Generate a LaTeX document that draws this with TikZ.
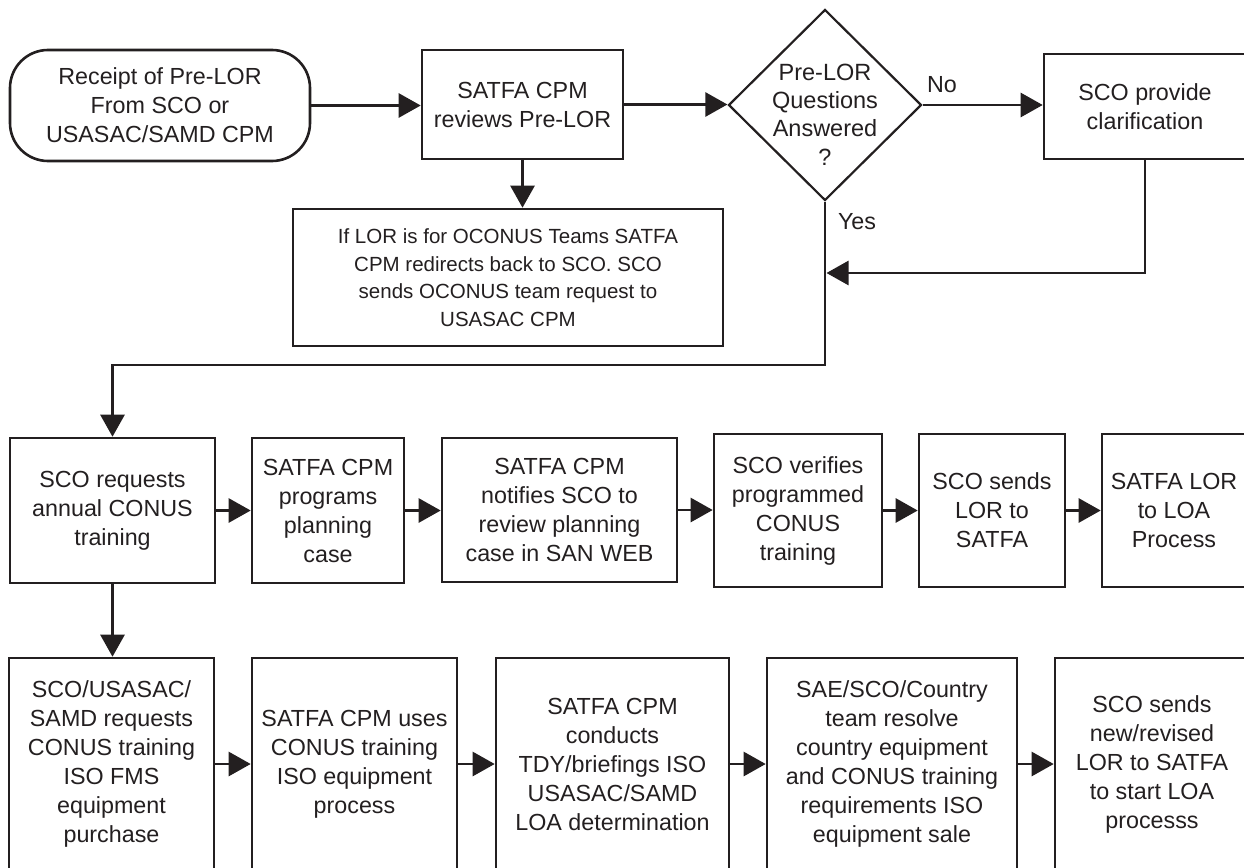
\documentclass[tikz,border=0pt]{standalone}
\usepackage{fontspec}
\setmainfont{Liberation Sans}
\usetikzlibrary{arrows.meta,shapes.geometric}
\definecolor{ink}{HTML}{231F20}
\begin{document}
\begin{tikzpicture}[x=1pt,y=-1pt,
  every node/.style={font=\fontsize{23.3}{29}\selectfont, text=ink},
  box/.style={draw=ink, line width=2.6pt, align=center, inner sep=0pt},
  conn/.style={draw=ink, line width=2.6pt, -{Triangle[length=22pt,width=24pt]}},
  lbl/.style={inner sep=0pt}
]
\useasboundingbox (0,0) rectangle (1244,867);
\clip (0,0) rectangle (1244,867);
% row 1
\node[box, rounded corners=38pt, minimum width=300pt, minimum height=111pt] (start) at (160,105.5)
  {Receipt of Pre-LOR\\From SCO or\\USASAC/SAMD CPM};
\node[box, minimum width=201pt, minimum height=109pt] (review) at (522.5,104.5)
  {SATFA CPM\\reviews Pre-LOR};
\node[draw=ink, line width=2.2pt, diamond, minimum width=193pt, minimum height=191pt, inner sep=0pt] (dec) at (825,105) {};
\node[align=center, font=\fontsize{23.5}{28.3}\selectfont] (dectext) at (825,114.5) {Pre-LOR\\Questions\\Answered\\?};
\node[box, minimum width=202pt, minimum height=105pt] (clar) at (1145,106.5)
  {SCO provide\\clarification};
\node[box, minimum width=430pt, minimum height=137pt, font=\fontsize{20.5}{27.5}\selectfont] (redir) at (508,277.5)
  {If LOR is for OCONUS Teams SATFA\\CPM redirects back to SCO. SCO\\sends OCONUS team request to\\USASAC CPM};
\node[lbl] (no) at (942,85) {No};
\node[lbl] (yes) at (857,222) {Yes};
% row 2
\node[box, minimum width=205pt, minimum height=145pt] (r2a) at (112.5,510.5)
  {SCO requests\\annual CONUS\\training};
\node[box, minimum width=152pt, minimum height=145pt] (r2b) at (328,510.5)
  {SATFA CPM\\programs\\planning\\case};
\node[box, minimum width=235pt, minimum height=144pt] (r2c) at (559.5,510)
  {SATFA CPM\\notifies SCO to\\review planning\\case in SAN WEB};
\node[box, minimum width=168pt, minimum height=153pt] (r2d) at (798,510.5)
  {SCO verifies\\programmed\\CONUS\\training};
\node[box, minimum width=146pt, minimum height=153pt] (r2e) at (992,510.5)
  {SCO sends\\LOR to\\SATFA};
\node[box, minimum width=144pt, minimum height=153pt] (r2f) at (1174,510.5)
  {SATFA LOR\\to LOA\\Process};
% row 3
\node[box, minimum width=205pt, minimum height=212pt] (r3a) at (111.5,764)
  {SCO/USASAC/\\SAMD requests\\CONUS training\\ISO FMS\\equipment\\purchase};
\node[box, minimum width=205pt, minimum height=212pt] (r3b) at (354.5,764)
  {SATFA CPM uses\\CONUS training\\ISO equipment\\process};
\node[box, minimum width=233pt, minimum height=212pt] (r3c) at (612.5,764)
  {SATFA CPM\\conducts\\TDY/briefings ISO\\USASAC/SAMD\\LOA determination};
\node[box, minimum width=250pt, minimum height=212pt] (r3d) at (892,764)
  {SAE/SCO/Country\\team resolve\\country equipment\\and CONUS training\\requirements ISO\\equipment sale};
\node[box, minimum width=194pt, minimum height=212pt] (r3e) at (1152,764)
  {SCO sends\\new/revised\\LOR to SATFA\\to start LOA\\processs};
% connectors
\coordinate (back) at (826.5,273);
\coordinate (yb) at (825,365);
\draw[conn] (start.east) -- (start.east -| review.west);
\draw[conn] (review.east) -- (review.east -| dec.west);
\draw[conn] (dec.east) -- (dec.east -| clar.west);
\draw[conn] (review.south) -- (review.south |- redir.north);
\draw[conn] (clar.south) |- (back);
\draw[conn] (dec.south) -- (yb) -| (r2a.north);
\draw[conn] (r2a.east) -- (r2a.east -| r2b.west);
\draw[conn] (r2b.east) -- (r2b.east -| r2c.west);
\draw[conn] (r2c.east) -- (r2c.east -| r2d.west);
\draw[conn] (r2d.east) -- (r2d.east -| r2e.west);
\draw[conn] (r2e.east) -- (r2e.east -| r2f.west);
\draw[conn] (r2a.south) -- (r2a.south |- r3a.north);
\draw[conn] (r3a.east) -- (r3a.east -| r3b.west);
\draw[conn] (r3b.east) -- (r3b.east -| r3c.west);
\draw[conn] (r3c.east) -- (r3c.east -| r3d.west);
\draw[conn] (r3d.east) -- (r3d.east -| r3e.west);
\end{tikzpicture}
\end{document}
